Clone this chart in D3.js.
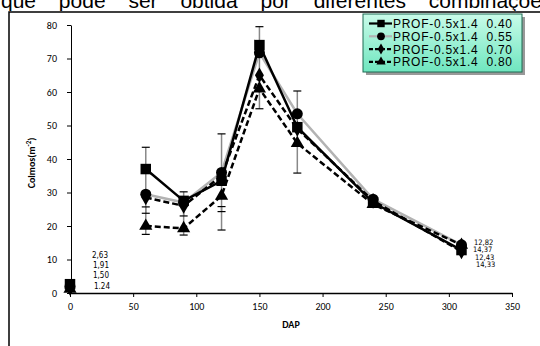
<!DOCTYPE html>
<html><head><meta charset="utf-8">
<script src="https://cdn.jsdelivr.net/npm/d3@7"></script>
<style>body{margin:0;background:#fff}svg{display:block}</style>
</head><body>
<svg id="c" width="540" height="346"></svg>
<script>
const days = [0, 60, 90, 120, 150, 180, 240, 310];
const seriesNames = ["PROF-0.5x1.4  0.40", "PROF-0.5x1.4  0.55", "PROF-0.5x1.4  0.70", "PROF-0.5x1.4  0.80"];
const s040 = [2.63, 37, 27.5, 33.5, 74, 49.5, 27, 12.82];
const s055 = [1.91, 29.5, 27, 36, 71.7, 53.5, 28, 14.37];
const s070 = [1.50, 28.5, 26, 35, 65, 49, 27.5, 12.43];
const s080 = [1.24, 20, 19.3, 29, 61, 44.7, 26.5, 14.33];
const errX = [60, 60, 90, 90, 120, 120, 150, 180];
const errLo = [17.5, 23.8, 17.3, 23, 18.8, 24.3, 55, 35.8];
const errHi = [43.5, 25.7, 30.2, 28, 47.5, 25.8, 79.5, 60.3];
const startLabels = ["2,63", "1,91", "1,50", "1.24"];
const endLabels = ["12,82", "14,37", "12,43", "14,33"];
const xTicks = [0, 50, 100, 150, 200, 250, 300, 350];
const yTicks = [0, 10, 20, 30, 40, 50, 60, 70, 80];
const pageWords = ["que", "pode", "ser", "obtida", "por", "diferentes", "combinações"];

const svg = d3.select("#c");
const x = d3.scaleLinear().domain([0, 350]).range([70, 512]);
const y = d3.scaleLinear().domain([0, 80]).range([293, 25]);

// cropped page text at top
svg.append("text").attr("x", 1).attr("y", 8).attr("font-family", "Liberation Sans, Arial")
  .attr("font-size", 21).attr("word-spacing", 17)
  .text(pageWords.join(" "));

// frame
svg.append("rect").attr("x", 0).attr("y", 11).attr("width", 540).attr("height", 335).attr("fill", "#fff");
svg.append("path").attr("d", "M9,346V12H540").attr("fill", "none").attr("stroke", "#000").attr("stroke-width", 1.5);

// axes
const fnt = "Carlito, 'Liberation Sans', Arial";
const yAx = svg.append("g").attr("transform", "translate(71,0)")
  .call(d3.axisLeft(y).tickValues(yTicks).tickSize(4).tickPadding(10).tickSizeOuter(0));
yAx.select(".domain").attr("stroke", "#000").attr("stroke-width", 1);
yAx.selectAll("text").attr("font-family", fnt).attr("font-size", 10).attr("fill", "#000");
const xAx = svg.append("g").attr("transform", "translate(0,293)")
  .call(d3.axisBottom(x).tickValues(xTicks).tickSize(4).tickPadding(6).tickSizeOuter(0));
xAx.select(".domain").attr("stroke", "#000").attr("stroke-width", 1.5);
xAx.selectAll("text").attr("font-family", fnt).attr("font-size", 10).attr("fill", "#000");

svg.append("text").attr("x", 291).attr("y", 328).attr("text-anchor", "middle")
  .attr("font-family", fnt).attr("font-size", 10).attr("font-weight", "bold").text("DAP");
const yt = svg.append("text").attr("transform", "translate(35,163) rotate(-90)").attr("text-anchor", "middle")
  .attr("font-family", fnt).attr("font-size", 10).attr("font-weight", "bold");
yt.append("tspan").text("Colmos(m");
yt.append("tspan").attr("dy", -4).attr("font-size", 7).text("-2");
yt.append("tspan").attr("dy", 4).text(")");

// error bars
const eb = svg.append("g");
errX.forEach((ex, i) => {
  eb.append("line").attr("x1", x(ex)).attr("x2", x(ex)).attr("y1", y(errLo[i])).attr("y2", y(errHi[i]))
    .attr("stroke", "#888").attr("stroke-width", 1.5);
  [errLo[i], errHi[i]].forEach(v => eb.append("line").attr("x1", x(ex) - 4).attr("x2", x(ex) + 4)
    .attr("y1", y(v)).attr("y2", y(v)).attr("stroke", "#000").attr("stroke-width", 1.2));
});

const seriesVals = [s040, s055, s070, s080];
const styles = [
  {stroke: "#000", dash: null, sym: d3.symbolSquare, size: 110},
  {stroke: "#b3b3b3", dash: null, sym: d3.symbolCircle, size: 95},
  {stroke: "#000", dash: "6,3", sym: d3.symbolDiamond, size: 70},
  {stroke: "#000", dash: "6,3", sym: d3.symbolTriangle, size: 75}
];
// lines skip the day-0 point (not connected in the original)
const line = d3.line().defined((d, i) => i > 0).x((d, i) => x(days[i])).y(d => y(d));
[1, 3, 2, 0].forEach(k => {
  svg.append("path").datum(seriesVals[k]).attr("d", line).attr("fill", "none")
    .attr("stroke", styles[k].stroke).attr("stroke-width", 2.5).attr("stroke-dasharray", styles[k].dash);
});
[1, 3, 2, 0].forEach(k => {
  svg.append("g").selectAll("path").data(seriesVals[k]).join("path")
    .attr("transform", (d, i) => `translate(${x(days[i])},${y(d)})`)
    .attr("d", d3.symbol().type(styles[k].sym).size(styles[k].size)).attr("fill", "#000");
});

// value labels
const lf = "'DejaVu Sans Condensed', 'Liberation Sans', Arial";
const sx = [92, 93, 93, 94], sy = [258, 268, 278, 289];
startLabels.forEach((t, i) => svg.append("text").attr("x", sx[i]).attr("y", sy[i])
  .attr("font-family", lf).attr("font-size", 8).text(t));
const ex2 = [474, 473, 475, 476], ey = [244.5, 252, 259.5, 267];
endLabels.forEach((t, i) => svg.append("text").attr("x", ex2[i]).attr("y", ey[i])
  .attr("font-family", lf).attr("font-size", 7.5).text(t));

// legend
const defs = svg.append("defs");
const gr = defs.append("linearGradient").attr("id", "lg").attr("x1", 0).attr("y1", 0).attr("x2", 0).attr("y2", 1);
gr.append("stop").attr("offset", 0).attr("stop-color", "#c9fbe9");
gr.append("stop").attr("offset", 1).attr("stop-color", "#6fe6bf");
svg.append("rect").attr("x", 366).attr("y", 17).attr("width", 159).attr("height", 58).attr("fill", "#999");
svg.append("rect").attr("x", 363).attr("y", 14).attr("width", 159).attr("height", 58)
  .attr("fill", "url(#lg)").attr("stroke", "#1d6b52").attr("stroke-width", 1);
seriesNames.forEach((n, k) => {
  const ly = 23.5 + k * 12.8;
  svg.append("line").attr("x1", 369).attr("x2", 392).attr("y1", ly).attr("y2", ly)
    .attr("stroke", styles[k].stroke).attr("stroke-width", 2.2).attr("stroke-dasharray", styles[k].dash ? "4,2" : null);
  svg.append("path").attr("transform", `translate(381,${ly})`)
    .attr("d", d3.symbol().type(styles[k].sym).size(styles[k].size * 0.5)).attr("fill", "#000");
  svg.append("text").attr("x", 393).attr("y", ly + 4.5).attr("font-family", "'Liberation Sans', Arial")
    .attr("font-size", 12).attr("textLength", 119).attr("lengthAdjust", "spacing")
    .style("white-space", "pre").text(n);
});
</script>
</body></html>
